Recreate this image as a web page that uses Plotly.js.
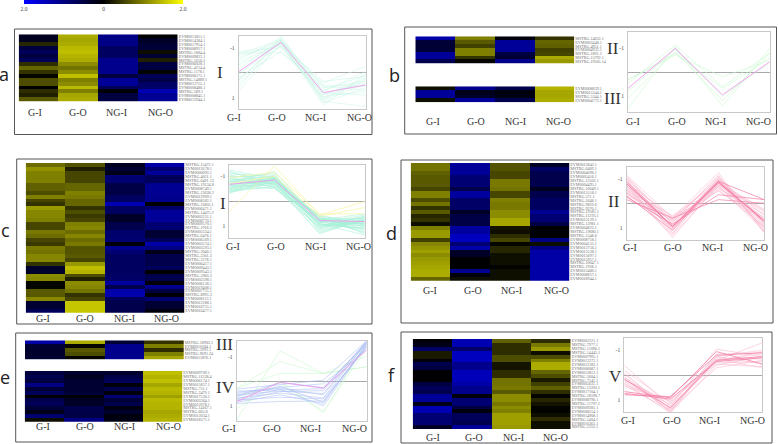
<!DOCTYPE html>
<html><head><meta charset="utf-8">
<script src="https://cdn.plot.ly/plotly-3.0.1.min.js"></script>
<style>html,body{margin:0;padding:0;background:#fff}#p{width:778px;height:444px}</style>
</head><body><div id="p"></div>
<script>
const conditions = ['G-I','G-O','NG-I','NG-O'];

const genesA = ['EVM0013811.1','EVM0014384.1','EVM0017914.1','EVM0008917.1','MSTRG.1884.4','EVM0009823.1','MSTRG.1650.2','EVM0006028.1','MSTRG.4214.4','MSTRG.1178.1','EVM0006571.1','MSTRG.14889.1','EVM0012755.1','EVM0008480.1','MSTRG.589.1','EVM0008845.1','EVM0012944.1'];
const heatA_GI  = [-.25,-.25,.3,-.5,-.7,-.5,-.7,.35,.8,.4,.05,.6,.6,0,.35,.25,.7];
const heatA_GO  = [1.35,1.3,1.35,1.45,1.5,1.4,1.35,1.1,.9,1.1,1.5,1,1.1,1.45,1,1.3,1.35];
const heatA_NGI = [-1.05,-1.05,-1.05,-.75,-.75,-.75,-1.1,-1.1,-1.1,-1.1,-.5,-1.2,-1.2,-.7,-.05,-.5,-.5];
const heatA_NGO = [0,-.3,-.4,-.45,.1,-.4,.25,-.5,-.5,.02,-.7,-.55,-.8,-.8,-1.4,-1.15,-1.15];

const genesB1 = ['MSTRG.14632.1','EVM0003440.1','MSTRG.4951.1','EVM0004932.1','MSTRG.1891.2','MSTRG.15792.1','MSTRG.19505.14'];
const heatB1_GI  = [-1.3,-.45,-.4,-.45,-1.2,-1.2,-.6];
const heatB1_GO  = [1,.7,.5,1,1,.4,.05];
const heatB1_NGI = [-.1,-1.2,-1.2,-1.2,-.5,-.4,-1.1];
const heatB1_NGO = [.4,.8,.75,.5,.55,1.35,1.2];

const genesB2 = ['EVM0008839.1','EVM0015344.1','MSTRG.5344.1','EVM0004772.1'];
const heatB2_GI  = [.1,-1.2,-1.2,.1];
const heatB2_GO  = [-1.1,-.2,-.3,-1.2];
const heatB2_NGI = [-.6,-.1,-.15,-.6];
const heatB2_NGO = [1.4,1.3,1.3,1.35];

const genesC = ['MSTRG.15472.1','EVM0012678.1','EVM0000092.1','MSTRG.4021.1','MSTRG.6491.13','MSTRG.19134.8','EVM0008749.1','MSTRG.13638.2','EVM0012909.1','EVM0008582.1','MSTRG.11805.1','EVM0006471.1','MSTRG.14475.2','EVM0002231.1','EVM0008770.1','EVM0009570.1','MSTRG.1918.2','EVM0005334.1','MSTRG.6478.1','EVM0006509.1','EVM0003574.1','EVM0003593.1','MSTRG.2040.1','MSTRG.2301.3','MSTRG.2178.1','EVM0006417.1','EVM0009443.1','EVM0009343.1','MSTRG.5960.3','EVM0002598.1','EVM0006136.1','EVM0019408.1','EVM0007751.1','MSTRG.8995.3','EVM0008112.1','EVM0012288.1','EVM0016755.1','EVM0016477.1'];
const heatC_GI  = [.85,1.15,1,1,1,.75,.75,.6,1,.55,.4,1.2,1.05,1.05,1,.55,.55,.95,.85,.55,.45,.95,.9,1.05,1.05,.4,-.35,-.35,1.1,1.05,.05,.05,.7,.7,1.05,-.4,-.4,-.7];
const heatC_GO  = [.65,.25,.55,.55,.55,.8,.8,1,.95,.8,.8,.4,.6,.45,.55,1,1.05,.85,1.05,.85,.95,.65,.65,.7,.55,1.2,1.5,1.4,.6,.25,1.1,1.05,.9,.4,.55,1.55,1.55,1.55];
const heatC_NGI = [-.25,-.4,-.2,-.9,-.9,-.55,-.55,-.55,-.75,-.75,-1.4,-.75,-.75,-.3,-.3,-.6,-.6,-.85,-.85,-.9,-.1,-1.1,-.9,-.75,-.75,-.75,-.75,-.75,-.8,-.8,-1.25,-.6,-1.35,-1.35,-.7,-.6,-.6,-.6];
const heatC_NGO = [-1.3,-.9,-1.2,-.7,-.7,-1.15,-1.15,-1.15,-1.1,-1.1,-.02,-.85,-1.2,-1.2,-1.2,-.9,-.9,-.4,-.4,-.7,-1.3,-1,-.2,-.6,-.6,-.6,-.7,0,-.6,-.6,-.05,-1.1,-.5,-.03,-.9,-.4,-.4,-.1];

const genesD = ['EVM0015842.1','MSTRG.6409.1','EVM0004096.1','EVM0005416.1','MSTRG.12502.1','EVM0004495.1','MSTRG.16049.1','EVM0015518.1','MSTRG.571.1','MSTRG.1648.1','MSTRG.9829.6','MSTRG.9270.1','MSTRG.19585.1','MSTRG.11293.1','EVM0013129.1','MSTRG.12981.1','EVM0004822.1','MSTRG.19680.1','MSTRG.1548.6','EVM0008758.1','EVM0004155.1','EVM0013756.1','EVM0012538.1','EVM0015097.1','EVM0015957.1','MSTRG.10047.1','MSTRG.1938.5','EVM0012480.1','EVM0008857.1','EVM0018944.1'];
const heatD_GI  = [.9,.9,.75,.7,.7,.7,.55,1,1,.6,.9,.4,.7,.3,.4,.1,1,1.2,1.2,.5,1.05,1.15,1.25,1.1,1.2,1.25,1.3,1.35,1.35,.8];
const heatD_GO  = [-1.2,-1.2,-1.2,-.9,-.9,-.9,-.6,-1.25,-1.25,-.8,-.8,-.8,-.3,-.55,-.55,-.55,-1.25,-1.25,-1.5,-1.5,-.9,-1.3,-.3,-.3,-.02,-.02,-.02,-1.1,-.1,.1];
const heatD_NGI = [.65,.65,.55,.55,.95,.95,.9,.55,.55,1,.95,.95,1.1,1.1,1.3,1.3,.15,.1,.35,.55,.05,.3,.3,.12,.12,.12,.02,.12,.12,.12];
const heatD_NGO = [-.3,-.8,-.6,-.6,-.6,-.6,-.25,-.6,-.6,-.75,-.75,-.75,-1.15,-.9,-.9,-.55,0,-.02,0,-1,.1,-1,-1.3,-1.3,-1.3,-1.3,-1.3,-1.3,-1.3,-1.3];

const genesE1 = ['MSTRG.18902.1','EVM0010184.1','MSTRG.5991.1','MSTRG.9691.24','EVM0015876.1'];
const heatE1_GI  = [-1.3,-.4,-.35,-.35,-.4];
const heatE1_GO  = [1.35,.05,.7,.6,.05];
const heatE1_NGI = [-.4,-1.1,-1.1,-1.1,-1.1];
const heatE1_NGO = [.4,1,.35,1,1.3];

const genesE2 = ['EVM0009709.1','MSTRG.11338.4','EVM0006174.1','EVM0015857.1','MSTRG.751.1','MSTRG.2479.1','EVM0017530.1','EVM0003364.1','EVM0015978.1','MSTRG.14167.1','MSTRG.665.8','EVM0013034.1','EVM0018371.1'];
const heatE2_GI  = [-.5,-.6,-.5,-1,-.45,-.7,-.05,-.6,-.7,-.45,-.2,-.9,.1];
const heatE2_GO  = [-.35,-.25,-.4,-.4,-.4,-.45,-.05,-.3,-.3,-.6,-.55,-.55,-1];
const heatE2_NGI = [-.35,-.55,-.7,-.1,-.6,-.1,-.9,-.45,-.6,-.15,-.35,-.1,-.15];
const heatE2_NGO = [1.5,1.4,1.5,1.3,1.45,1.4,1.25,1.45,1.4,1.4,1.3,1.35,1.4];

const genesF = ['EVM0002221.1','MSTRG.7977.1','MSTRG.11096.1','MSTRG.14445.1','EVM0007995.1','EVM0012272.1','EVM0012183.1','EVM0006087.1','EVM0012813.1','MSTRG.5684.1','MSTRG.7241.1','EVM0005631.1','MSTRG.13203.1','EVM0017104.1','MSTRG.18596.7','EVM0008796.1','MSTRG.11797.1','EVM0009281.1','EVM0008514.1','EVM0014908.1','MSTRG.5404.1','EVM0016363.1','MSTRG.1355.1'];
const heatF_GI  = [-.05,-.2,-.8,.2,.2,-.1,-.6,-.5,-.02,-.02,-.02,-.5,-.7,-.6,-1.2,-1.2,-.2,-1.4,-1.4,-.9,-.9,-.9,-.3];
const heatF_GO  = [-1.4,-1.4,-.8,-1.5,-1.5,-1.5,-1.1,-1.1,-1.45,-1.45,-1.45,-1.3,-1.1,-1.1,-.1,-.9,-.9,-.5,-.1,-.7,-.7,-.6,-1.2];
const heatF_NGI = [.75,.35,.35,.35,.6,.6,.15,.15,.35,.35,.9,.9,.95,.7,1.1,1.1,.95,1.1,1,1.25,1.25,1.25,1.2];
const heatF_NGO = [.35,.95,1.2,.1,.6,1,1.35,1.35,.8,.6,.2,.5,.75,.35,.05,.3,.15,.02,.02,.1,.35,.1,.1];

const linesA = [[-.85,-1,.9,.2],[-.75,-1.3,.55,.7],[-.7,-1.1,1.05,.3],[-.6,-1.25,.7,.1],[-.5,-1.4,.85,.4],[-.4,-1.2,1.2,.6],[-.3,-1.15,.35,.15],[-.15,-1.3,.95,.75],[0,-1.05,.6,.35],[.1,-1.35,1.1,.45],[.2,-.85,.75,-.05],[.3,-1.25,.5,.55],[.45,-1.1,1,.25],[.6,-1.45,.8,.9],[.75,-1.2,1.3,.05],[-.8,-.8,.4,-.25],[.3,-1.3,1.15,1.35]];
const centerA = [-.04,-1.21,.8,.49];

const linesB = [[.3,-.72,.18,-.5],[.46,-1.14,.6,-.8],[1.08,-.86,1.18,-.8],[1.5,-1.07,1.4,-1],[.8,-.96,.99,-.38],[.33,-.79,.67,-.6]];
const centerB = [.67,-1,.94,-.44];

const linesC = [[-1.25,-.9,.8,.9],[-1.2,-.65,.9,1.1],[-1.15,-.8,1.05,.7],[-1.1,-1,.7,.95],[-1.05,-.75,.6,1.3],[-1,-.95,1,.6],[-.98,-.55,.75,1],[-.95,-1.1,1.2,.75],[-.9,-.7,.85,.55],[-.88,-.85,.65,1.15],[-.85,-1,.95,.85],[-.82,-.6,1.1,.65],[-.8,-.9,.7,1.25],[-.78,-.75,1.3,.7],[-.75,-1.2,.8,.9],[-.72,-.7,.6,.8],[-.7,-.85,.95,1.05],[-.68,-.5,.75,.5],[-.65,-.95,.9,1.35],[-.62,-.8,1.15,.75],[-.6,-1.05,.7,.85],[-.58,-.65,.85,1],[-.55,-.9,1,.6],[-.52,-.75,.55,.95],[-.5,-1,.8,1.2],[-.48,-.55,1.05,.8],[-.45,-.85,.7,.7],[-.42,-.7,.9,1.1],[-.4,-.95,.65,.9],[-.38,-.6,1.25,.75],[-.35,-.8,.85,.65],[-.32,-.9,.75,1]];
const yellowC = [[.41,-1.41,.55,.01],[-.95,-1.15,.5,.5],[-.7,-1,.6,.25]];
const centerC = [-.68,-.85,.77,.81];

const linesD = [[-1.15,.6,-1.25,1.2],[-1.1,.85,-.9,.95],[-1.05,1,-.75,.6],[-1,.7,-1.1,1.1],[-.95,1.2,-.85,.8],[-.9,.95,-1,.5],[-.85,.55,-.7,1],[-.82,1.1,-.95,.75],[-.8,.8,-1.15,1.2],[-.75,1.4,-.8,.9],[-.72,.9,-.6,.45],[-.7,.65,-1,.85],[-.65,1.05,-.9,1.05],[-.62,.75,-.75,.35],[-.6,1.25,-1.05,.7],[-.55,.9,-.55,.95],[-.5,.5,-.85,.25],[-.48,1,-.95,.8],[-.45,1.3,-.7,1.15],[-.42,.7,-.65,.6],[-.4,.95,-.8,.3],[-.35,.6,-.5,.7]];
const strongD = [[-.3,1.1,-.9,-.15],[-.25,.85,-.35,-.15],[-.15,.6,-.15,0],[-.9,.95,-.9,.75]];
const centerD = [-.8,.95,-.85,.7];

const linesE_green = [[1.57,-1.24,-.32,-1.03],[.28,-.8,-.32,-.59],[.28,-.32,-.32,-.59],[1.1,.08,1.27,-1.6],[.76,.01,1.23,-1.34]];
const linesE_blue = [[.32,.12,-.05,-1.65],[.4,.35,.3,-1.6],[.5,.28,.55,-1.55],[.55,.4,.5,-1.62],[.62,.2,.85,-1.5],[.68,.48,.68,-1.58],[.72,.32,1,-1.45],[.76,.65,.72,-1.4],[.8,.42,.38,-1.65],[.85,.55,.9,-1.5],[.6,.05,.25,-1.55],[.45,.25,.1,-1.3],[.9,.82,.8,-1.42]];
const centerE = [.82,.04,.28,-1.27];

const linesF = [[-.4,1.25,-1.05,-.75],[-.2,1.1,-.6,-1.3],[-.1,1.5,-.75,-.45],[-.05,1.35,-.55,-.95],[.05,1.45,-.7,-.65],[.1,1.2,-.45,-.35],[.15,1.4,-.85,-.9],[.2,1.05,-.5,-.55],[.25,1.3,-.65,-.3],[.3,1.5,-.4,-.75],[.35,1.15,-.75,-1],[.4,1.4,-.3,-.6],[.45,1,-.6,-.85]];
const strongF = [[.65,.9,-.95,-.45],[.72,.95,-.55,-.7],[.78,.85,-.8,-.9]];
const centerF = [.15,1.3,-.6,-.75];

const colorbarTicks = [-2,0,2];
const colorbarLabels = ['2.0','0','2.0'];
const yTicks = [-1,1];
const yTickLabels = ['-1','1'];

const W=778,H=444;
const px=x=>x/W, py=y=>1-y/H;
const traces=[], layout={width:W,height:H,margin:{l:0,r:0,t:0,b:0},paper_bgcolor:'#fff',plot_bgcolor:'#fff',showlegend:false,annotations:[],shapes:[],font:{family:'Liberation Serif'}};
let n=0;
const scale=[[0,'#0000ff'],[.5,'#000000'],[1,'#ffff00']];
function heat(cols,genes,x0,x1,y0,y1,withBar){
  n++;const s=n===1?'':n;
  const z=genes.map((g,i)=>cols.map(c=>c[i]));
  const t={type:'heatmap',z,x:conditions,y:genes.map((g,i)=>i),xaxis:'x'+s,yaxis:'y'+s,zmin:-2,zmax:2,colorscale:scale,showscale:!!withBar,hoverinfo:'skip'};
  if(withBar)t.colorbar={orientation:'h',x:px(24),xanchor:'left',xref:'paper',y:1,yanchor:'top',yref:'paper',thickness:4,thicknessmode:'pixels',len:159,lenmode:'pixels',xpad:0,ypad:0,outlinewidth:0,tickmode:'array',tickvals:colorbarTicks,ticktext:colorbarLabels,ticks:'',tickfont:{size:5.5,family:'Liberation Serif',color:'#444'}};
  traces.push(t);
  layout['xaxis'+s]={domain:[px(x0),px(x1)],anchor:'y'+s,showticklabels:false,ticks:'',showgrid:false,zeroline:false,showline:false};
  layout['yaxis'+s]={domain:[py(y1),py(y0)],anchor:'x'+s,side:'right',range:[genes.length-.5,-.5],tickmode:'array',tickvals:genes.map((g,i)=>i),ticktext:genes,ticks:'',tickfont:{size:4.1,family:'Liberation Serif',color:'#707070'},showgrid:false,zeroline:false,showline:false,automargin:false};
}
function chart(groups,x0,x1,yTop,yBot,yZero,unit){
  n++;const s=n;
  groups.forEach(g=>g.lines.forEach(v=>traces.push({type:'scatter',mode:'lines',x:conditions,y:v,xaxis:'x'+s,yaxis:'y'+s,line:{color:g.color,width:g.w||.55},hoverinfo:'skip'})));
  layout['xaxis'+s]={domain:[px(x0),px(x1)],anchor:'y'+s,type:'category',categoryorder:'array',categoryarray:conditions,range:[0,3],showticklabels:false,ticks:'',showgrid:false,zeroline:false,showline:true,linecolor:'#c8c8c8',linewidth:1,mirror:true};
  layout['yaxis'+s]={domain:[py(yBot),py(yTop)],anchor:'x'+s,range:[(yBot-yZero)/unit,(yTop-yZero)/unit],tickmode:'array',tickvals:yTicks,ticktext:yTickLabels,ticks:'outside',ticklen:2,tickcolor:'rgba(0,0,0,0)',tickfont:{size:5.5,family:'Liberation Serif',color:'#444'},showgrid:false,zeroline:true,zerolinecolor:'#a8a8a8',zerolinewidth:1,showline:true,linecolor:'#c8c8c8',linewidth:1,mirror:true,automargin:false};
}
function txt(t,x,y,size,fam,col){layout.annotations.push({text:t,x:px(x),y:py(y),xref:'paper',yref:'paper',showarrow:false,xanchor:'center',yanchor:'middle',borderpad:0,font:{size,family:fam||'Liberation Serif',color:col||'#333'}});}
function cols(xs,y){conditions.forEach((c,i)=>txt(c,xs[i],y,10));}
function frame(x0,x1,y0,y1){layout.shapes.push({type:'rect',xref:'paper',yref:'paper',x0:px(x0),x1:px(x1),y0:py(y1),y1:py(y0),line:{color:'#555',width:1}});}

const aqua='#c9f6e6',aquaC='#a5f0d6',pinkL='#f9b4cc',pinkS='#f37ea6',green='#c6f7cc',blue='#a8bbf4',mag='#ee9aee';

heat([heatA_GI,heatA_GO,heatA_NGI,heatA_NGO],genesA,18.7,177.7,34.3,101.7,true);
chart([{lines:linesA,color:aqua},{lines:[centerA],color:mag,w:.9}],238.7,365.7,36,109.3,72.7,25);
heat([heatB1_GI,heatB1_GO,heatB1_NGI,heatB1_NGO],genesB1,415.3,574.3,36.3,63.7);
heat([heatB2_GI,heatB2_GO,heatB2_NGI,heatB2_NGO],genesB2,415.3,574.3,86.3,102.3);
chart([{lines:linesB,color:green},{lines:[centerB],color:mag,w:.9}],628,769.7,31.7,112,72.3,24);
heat([heatC_GI,heatC_GO,heatC_NGI,heatC_NGO],genesC,25.7,184.3,163,312.7);
chart([{lines:linesC,color:aquaC},{lines:yellowC,color:'#f6f3a0',w:.7},{lines:[centerC],color:mag,w:.9}],229.3,364.7,164.7,238,201.3,25);
heat([heatD_GI,heatD_GO,heatD_NGI,heatD_NGO],genesD,410.7,569.3,163,280.7);
chart([{lines:linesD,color:pinkL},{lines:strongD,color:pinkS,w:.7},{lines:[centerD],color:pinkS,w:1}],626.7,764.3,166.7,240,203.3,24.5);
heat([heatE1_GI,heatE1_GO,heatE1_NGI,heatE1_NGO],genesE1,25,183.7,340.3,359.7);
heat([heatE2_GI,heatE2_GO,heatE2_NGI,heatE2_NGO],genesE2,24.7,182.3,371,421.7);
chart([{lines:linesE_green,color:green},{lines:linesE_blue,color:blue},{lines:[centerE],color:mag,w:.9}],236.7,366.7,340.7,421.3,381.3,24.6);
heat([heatF_GI,heatF_GO,heatF_NGI,heatF_NGO],genesF,412.7,570.7,339,429);
chart([{lines:linesF,color:pinkL},{lines:strongF,color:pinkS,w:.8},{lines:[centerF],color:'#f489ac',w:.9}],624.3,762.3,338.3,412.3,375.3,25);

cols([35,78,117,160],113);cols([234,277,315,359],118);
cols([433,476,515,558],121.7);cols([633,677,715,758],121.7);
cols([42.7,85,124,166],318);cols([233,276,315,358],246);
cols([430,473,512,556],290);cols([630,673,712,755],247.3);
cols([42.7,85,124,168],426);cols([229,272,310.7,354],428);
cols([432.7,474,513,555.7],437.5);cols([627.7,671.7,709,752.7],420.7);

txt('I',220,72,17);txt('II',612.7,49,17);txt('III',612,98.7,17);
txt('I',222.7,203,17);txt('II',614,201.7,17);
txt('III',224,344,17);txt('IV',225,387.7,17);txt('V',615,376.7,17);
[['a',4,74],['b',394,75],['c',5,230],['d',391,233],['e',5,377],['f',391,375]].forEach(a=>txt(a[0],a[1],a[2],18,'Open Sans','#222'));

frame(14.5,372,29,134.5);frame(404.7,776.5,27,134);frame(16.7,372,159,324);frame(401,773,160,323);frame(15.7,372,333,442);frame(401,772,332,443);

Plotly.newPlot('p',traces,layout,{displayModeBar:false,staticPlot:true});
</script></body></html>
